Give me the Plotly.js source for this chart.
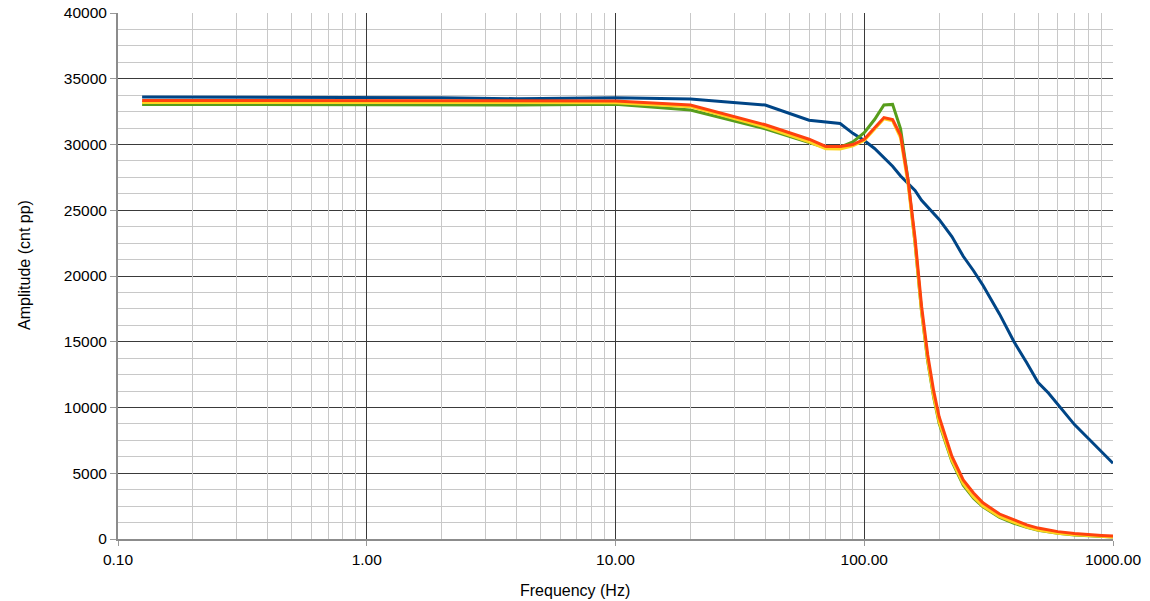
<!DOCTYPE html>
<html>
<head>
<meta charset="utf-8">
<script src="https://cdn.plot.ly/plotly-3.0.1.min.js"></script>
<style>
  html, body { margin: 0; padding: 0; background: #fff; }
  #chart { width: 1150px; height: 601px; }
</style>
</head>
<body>
<div id="chart"></div>
<script>
// frequencies (Hz) shared by the three filtered series
var freqFilt = [0.125, 0.25, 0.5, 1, 2, 4, 10, 20, 40, 60, 70, 80, 90, 100, 110, 120, 130, 140,
    150, 160, 170, 180, 190, 200, 225, 250, 275, 300, 350, 400, 450, 500, 600, 700, 800, 900, 1000];

var ampRed = [33350, 33350, 33330, 33330, 33340, 33300, 33310, 33000, 31500, 30400, 29850, 29850,
    30000, 30400, 31300, 32050, 31900, 30700, 27300, 22900, 17700, 14000, 11300, 9300, 6300, 4500,
    3500, 2750, 1900, 1430, 1070, 830, 560, 410, 320, 270, 230];

var ampYellow = [33200, 33200, 33180, 33180, 33190, 33150, 33180, 32880, 31330, 30200, 29680, 29650,
    29900, 30300, 31200, 31950, 31800, 30500, 27000, 22500, 17300, 13600, 10900, 8900, 6000, 4200,
    3200, 2500, 1700, 1250, 900, 680, 440, 320, 240, 190, 160];

var ampGreen = [33050, 33050, 33040, 33040, 33050, 33000, 33060, 32620, 31200, 30150, 29750, 29800,
    30200, 30900, 31900, 33000, 33050, 31200, 27300, 22500, 17300, 13500, 10800, 8800, 5900, 4100,
    3100, 2450, 1650, 1200, 880, 660, 430, 310, 230, 180, 150];

// unfiltered series
var freqBlue = [0.125, 1, 2, 4, 10, 20, 40, 60, 70, 80, 90, 100, 110, 120, 130, 140, 150, 160, 170,
    180, 190, 200, 225, 250, 275, 300, 350, 400, 450, 500, 550, 600, 700, 800, 900, 1000];

var ampBlue = [33620, 33580, 33560, 33480, 33560, 33460, 33000, 31850, 31700, 31600, 30850, 30300,
    29700, 29000, 28350, 27600, 27000, 26500, 25750, 25250, 24700, 24300, 23000, 21500, 20400, 19300,
    17100, 15000, 13400, 11900, 11100, 10250, 8700, 7600, 6600, 5760];

var xTickVals = [0.1, 1, 10, 100, 1000];
var xTickText = ["0.10", "1.00", "10.00", "100.00", "1000.00"];

// minor grid: 2..9 inside every decade
var xMinor = [];
xTickVals.slice(0, -1).forEach(function (d) {
    for (var k = 2; k <= 9; k++) xMinor.push(d * k);
});

function line(x, y, color) {
    return {
        x: x,
        y: y,
        type: "scatter",
        mode: "lines",
        line: {color: color, width: 3},
        hoverinfo: "x+y"
    };
}

// invisible carrier so the overlay axis (minor grid) gets drawn
var gridCarrier = {
    x: freqBlue,
    y: ampBlue,
    xaxis: "x2",
    type: "scatter",
    mode: "lines",
    line: {width: 0},
    opacity: 0,
    hoverinfo: "skip"
};

var data = [
    gridCarrier,
    line(freqBlue, ampBlue, "#004586"),
    line(freqFilt, ampGreen, "#579d1c"),
    line(freqFilt, ampYellow, "#ffd320"),
    line(freqFilt, ampRed, "#ff420e")
];

var layout = {
    width: 1150,
    height: 601,
    margin: {l: 118, r: 37, t: 13, b: 62},
    paper_bgcolor: "#ffffff",
    plot_bgcolor: "#ffffff",
    showlegend: false,
    font: {family: "Liberation Sans, Arial, sans-serif", size: 15.5, color: "#000"},
    xaxis: {
        type: "log",
        range: [-1, 3],
        tickvals: xTickVals,
        ticktext: xTickText,
        ticks: "outside",
        ticklen: 5,
        tickcolor: "#999",
        showline: true,
        linecolor: "#8c8c8c",
        linewidth: 2,
        showgrid: true,
        gridcolor: "#3a3a3a",
        gridwidth: 1,
        zeroline: false
    },
    xaxis2: {
        type: "log",
        range: [-1, 3],
        overlaying: "x",
        side: "bottom",
        tickmode: "array",
        tickvals: xMinor,
        showticklabels: false,
        ticks: "",
        showline: false,
        showgrid: true,
        gridcolor: "#c8c8c8",
        gridwidth: 1,
        zeroline: false
    },
    yaxis: {
        range: [0, 40000],
        dtick: 5000,
        tickformat: "d",
        ticks: "outside",
        ticklen: 6,
        tickcolor: "#999",
        showline: true,
        linecolor: "#8c8c8c",
        linewidth: 2,
        showgrid: true,
        gridcolor: "#3a3a3a",
        gridwidth: 1,
        zeroline: false,
        minor: {
            showgrid: true,
            gridcolor: "#c8c8c8",
            gridwidth: 1,
            dtick: 1250,
            ticks: ""
        }
    },
    annotations: [
        {
            text: "Frequency (Hz)",
            xref: "paper", yref: "paper",
            x: 0.459, y: -0.097,
            xanchor: "center", yanchor: "middle",
            showarrow: false,
            font: {size: 16}
        },
        {
            text: "Amplitude (cnt pp)",
            xref: "paper", yref: "paper",
            x: -0.0935, y: 0.521,
            xanchor: "center", yanchor: "middle",
            textangle: -90,
            showarrow: false,
            font: {size: 16}
        }
    ]
};

Plotly.newPlot("chart", data, layout, {displayModeBar: false, staticPlot: true});
</script>
</body>
</html>
